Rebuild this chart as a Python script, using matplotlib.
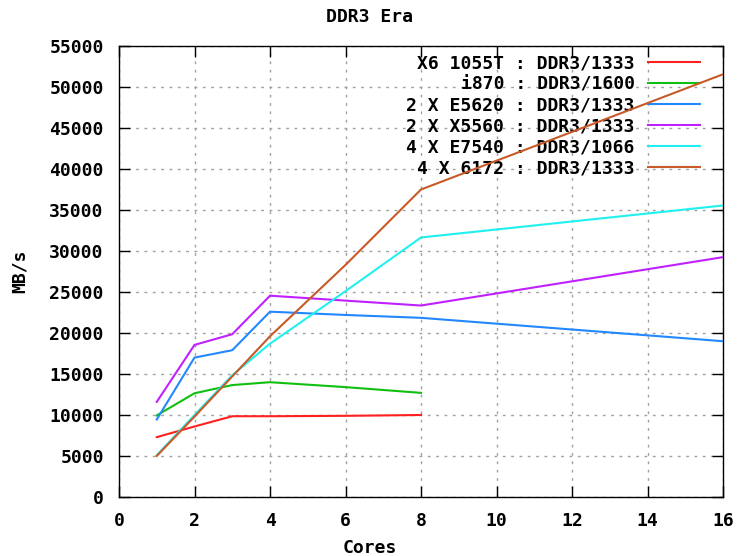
import matplotlib
matplotlib.use("Agg")
import matplotlib.pyplot as plt

# cores on x, MB/s on y
cores_short = [1, 2, 3, 4, 6, 8]
cores_long = [1, 2, 3, 4, 6, 8, 16]

x6_1055t = [7300, 8600, 9850, 9850, 9900, 10000]
i870 = [9950, 12650, 13650, 14000, 13400, 12700]
e5620 = [9450, 17000, 17900, 22600, 22200, 21850, 19000]
x5560 = [11600, 18550, 19850, 24550, 23950, 23350, 29250]
e7540 = [5100, 10000, 14850, 18700, 25100, 31650, 35550]
o6172 = [5000, 9800, 14700, 19600, 28300, 37500, 51550]

labels = ["X6 1055T : DDR3/1333", "i870 : DDR3/1600", "2 X E5620 : DDR3/1333",
          "2 X X5560 : DDR3/1333", "4 X E7540 : DDR3/1066", "4 X 6172 : DDR3/1333"]
colors = ["#ff2020", "#10c010", "#2288ff", "#c020ff", "#20f0f0", "#c85a28"]

x_ticks = list(range(0, 17, 2))
y_ticks = list(range(0, 55001, 5000))

font = "DejaVu Sans Mono"
plt.rcParams["font.family"] = font
plt.rcParams["font.weight"] = "bold"
plt.rcParams["font.size"] = 13

fig = plt.figure(figsize=(7.4, 5.56), dpi=100)
ax = fig.add_axes([119 / 740, 1 - 497 / 556, 604 / 740, 451 / 556])

series = [(cores_short, x6_1055t), (cores_short, i870), (cores_long, e5620),
          (cores_long, x5560), (cores_long, e7540), (cores_long, o6172)]
for (xs, ys), lab, c in zip(series, labels, colors):
    ax.plot(xs, ys, color=c, lw=1.5, label=lab, zorder=3)

ax.set_xlim(0, 16)
ax.set_ylim(0, 55000)
ax.set_xticks(x_ticks)
ax.set_yticks(y_ticks)
ax.tick_params(direction="in", length=8, width=1, top=True, right=True,
               labelsize=13, pad=11)
ax.tick_params(axis="y", pad=11)
ax.grid(True, color="#a0a0a0", linestyle=(0, (2, 4)), lw=1)
for s in ax.spines.values():
    s.set_linewidth(1)

fig.text(0.5, 1 - 17 / 556, "DDR3 Era", ha="center", va="center")
fig.text(0.5, 1 - 548 / 556, "Cores", ha="center", va="center")
fig.text(20 / 740, 1 - 271 / 556, "MB/s", ha="center", va="center", rotation=90)

leg = ax.legend(loc="upper right", bbox_to_anchor=(0.962, 0.982), markerfirst=False,
                frameon=False, handlelength=2.9, handletextpad=0.72,
                labelspacing=0.17, borderaxespad=0, borderpad=0)
leg.set_zorder(2)

fig.savefig("out.png", dpi=100)
